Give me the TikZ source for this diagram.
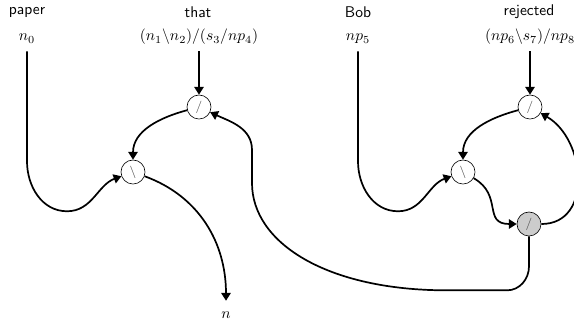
\documentclass[tikz,border=0pt]{standalone}
\usepackage{amsmath,amssymb}
\usepackage{tikz}
\usetikzlibrary{arrows.meta}

\begin{document}
\begin{tikzpicture}[
  x=0.645pt,y=0.645pt,
  word/.style={font=\sffamily},
  type/.style={text height=7.5pt,text depth=2.5pt,inner sep=4pt},
  op/.style={draw,circle,thin,minimum size=15.5pt,inner sep=0pt,font=\footnotesize,text=black!70},
  opgray/.style={op,fill=black!20},
  line/.style={-{Triangle[length=5pt,width=6pt]},line width=1.1pt}
]
\useasboundingbox (0,0) rectangle (574,-322);
\node[word] (w0) at (27,-12) {paper};
\node[word] (w1) at (198,-12) {that};
\node[word] (w2) at (358,-12) {Bob};
\node[word] (w3) at (529,-12) {rejected};
\node[type] (t0) at (27,-37) {$n_0$};
\node[type] (t1) at (199,-37) {$(n_1\backslash n_2)/(s_3/np_4)$};
\node[type] (t2) at (358,-37) {$np_5$};
\node[type] (t3) at (530,-37) {$(np_6\backslash s_7)/np_8$};
\node[op] (s1) at (199,-107) {$/$};
\node[op] (b1) at (133,-172) {$\backslash$};
\node[op] (s2) at (530,-107) {$/$};
\node[op] (b2) at (463,-172) {$\backslash$};
\node[opgray] (g) at (529,-224) {$/$};
\node[type] (res) at (226,-315) {$n$};
\draw[line] (t0.south) -- ++(0,-110) to[out=-90,in=180] ++(40,-50) to[out=0,in=200] (b1);
\draw[line] (t1.south) -- (s1.north);
\draw[line] (s1) to[out=195,in=90] (b1);
\draw[line] (b1) to[out=-20,in=90] (res);
\draw[line] (g.south) -- ++(0,-30) to[out=-90,in=0] ++(-22,-24) -- ++(-60,0)
  .. controls +(-120,0) and +(0,-60) .. (252,-183) -- (252,-150) to[out=90,in=-25] (s1);
\draw[line] (t2.south) -- ++(0,-110) to[out=-90,in=180] ++(40,-50) to[out=0,in=200] (b2);
\draw[line] (t3.south) -- (s2.north);
\draw[line] (s2) to[out=195,in=90] (b2);
\draw[line] (b2) to[out=-30,in=180,looseness=1.4] (g);
\draw[line] (g) to[out=0,in=-30,looseness=1.2] (s2);
\end{tikzpicture}
\end{document}
